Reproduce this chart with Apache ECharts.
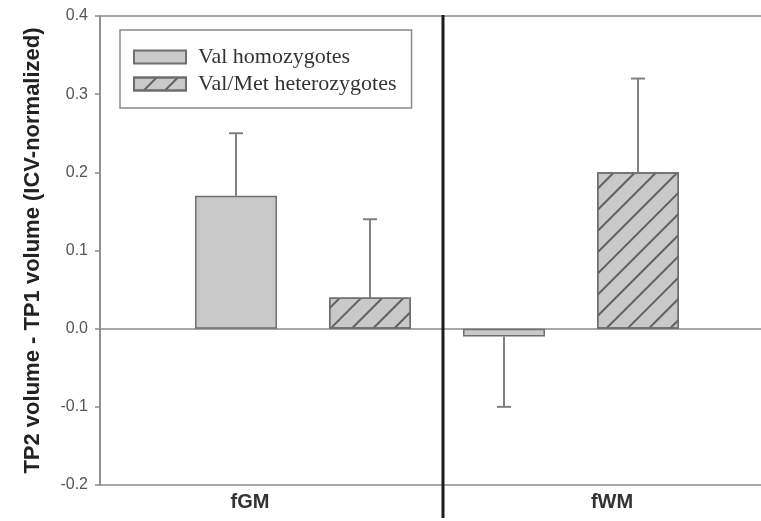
<!DOCTYPE html>
<html>
<head>
<meta charset="utf-8">
<script src="https://cdn.jsdelivr.net/npm/echarts@6/dist/echarts.min.js"></script>
<style>html,body{margin:0;padding:0;background:#fff;}#c{width:761px;height:521px;}</style>
</head>
<body>
<div id="c"></div>
<script>
const categories = ['fGM', 'fWM'];
const seriesNames = ['Val homozygotes', 'Val/Met heterozygotes'];
const homoMeans = [0.17, -0.01];
const hetMeans = [0.04, 0.20];
const homoErrEnds = [0.25, -0.10];
const hetErrEnds = [0.14, 0.32];
const yMin = -0.2, yMax = 0.4, yStep = 0.1;
const yAxisTitle = 'TP2 volume - TP1 volume (ICV-normalized)';

const BAR_W = 82, BAR_GAP_PX = 52;
const barOffset = (BAR_W + BAR_GAP_PX) / 2;
const axisGrey = '#8a8a8a';
const barFill = '#c9c9c9';
const barBorder = '#6f6f6f';

const chart = echarts.init(document.getElementById('c'), null, {renderer: 'canvas'});

function errSeries(means, ends, sign, name) {
  return {
    type: 'custom',
    name: name + ' err',
    xAxisIndex: 1, yAxisIndex: 1,
    z: 1,
    silent: true,
    data: means.map((m, i) => [i, m, ends[i]]),
    renderItem: function (params, api) {
      const a = api.coord([api.value(0), api.value(1)]);
      const b = api.coord([api.value(0), api.value(2)]);
      const x = a[0] + sign * barOffset;
      const st = {stroke: '#808080', lineWidth: 2};
      return {
        type: 'group',
        children: [
          {type: 'line', shape: {x1: x, y1: a[1], x2: x, y2: b[1]}, style: st},
          {type: 'line', shape: {x1: x - 7, y1: b[1], x2: x + 7, y2: b[1]}, style: st}
        ]
      };
    }
  };
}

const option = {
  animation: false,
  backgroundColor: '#fff',
  grid: [
    {left: 100, width: 686, top: 16, bottom: 36, show: true, borderColor: axisGrey, borderWidth: 1.5,
      outerBoundsMode: 'none', containLabel: false},
    {left: 169, width: 536, top: 16, bottom: 36, outerBoundsMode: 'none', containLabel: false}
  ],
  legend: {
    data: seriesNames,
    orient: 'vertical',
    left: 120, top: 30,
    padding: [16, 15, 13, 13],
    itemGap: 5,
    itemWidth: 52, itemHeight: 13,
    borderColor: '#8a8a8a', borderWidth: 1.5,
    icon: 'rect',
    textStyle: {fontFamily: 'Liberation Serif', fontSize: 22, color: '#333', padding: [0, 0, 0, 7]}
  },
  xAxis: [
    {
      type: 'category', gridIndex: 0, data: ['', ''], boundaryGap: true,
      axisLine: {show: true, onZero: true, lineStyle: {color: axisGrey, width: 1.5}},
      axisTick: {show: false}, axisLabel: {show: false}, splitLine: {show: false}
    },
    {
      type: 'category', gridIndex: 1, data: categories,
      axisLine: {show: false, onZero: false}, axisTick: {show: false},
      axisLabel: {
        margin: 7,
        formatter: function (v, i) { return '{c' + i + '|' + v + '}'; },
        rich: {
          c0: {fontFamily: 'Liberation Sans', fontWeight: 'bold', fontSize: 20, color: '#333', padding: [0, 106, 0, 0]},
          c1: {fontFamily: 'Liberation Sans', fontWeight: 'bold', fontSize: 20, color: '#333', padding: [0, 0, 0, 82]}
        }
      }
    }
  ],
  yAxis: [
    {
      type: 'value', gridIndex: 0, min: yMin, max: yMax, interval: yStep,
      name: yAxisTitle, nameLocation: 'middle', nameGap: 56,
      nameTextStyle: {fontFamily: 'Liberation Sans', fontWeight: 'bold', fontSize: 22, color: '#222'},
      axisLine: {show: true, lineStyle: {color: axisGrey, width: 1.5}},
      axisTick: {show: true, length: 5, lineStyle: {color: axisGrey, width: 1.5}},
      axisLabel: {margin: 12, fontFamily: 'Liberation Sans', fontSize: 16, color: '#555',
        formatter: function (v) { return v.toFixed(1); }},
      splitLine: {show: false}
    },
    {
      type: 'value', gridIndex: 1, min: yMin, max: yMax, interval: yStep, show: false
    }
  ],
  series: [
    {
      type: 'bar', name: seriesNames[0], xAxisIndex: 1, yAxisIndex: 1,
      data: homoMeans, barWidth: BAR_W, barGap: (BAR_GAP_PX / BAR_W * 100).toFixed(2) + '%',
      itemStyle: {color: barFill, borderColor: barBorder, borderWidth: 1.5}
    },
    {
      type: 'bar', name: seriesNames[1], xAxisIndex: 1, yAxisIndex: 1,
      data: hetMeans, barWidth: BAR_W,
      itemStyle: {
        color: barFill, borderColor: barBorder, borderWidth: 1.5,
        decal: {symbol: 'rect', symbolSize: 1, dashArrayX: [1, 0], dashArrayY: [1.4, 12.6],
          rotation: -Math.PI / 4, color: '#606060'}
      }
    },
    errSeries(homoMeans, homoErrEnds, -1, seriesNames[0]),
    errSeries(hetMeans, hetErrEnds, 1, seriesNames[1]),
    {
      type: 'custom', name: 'divider', xAxisIndex: 0, yAxisIndex: 0, silent: true, z: 5,
      data: [[0]],
      renderItem: function (params, api) {
        const top = api.coord([0, yMax]);
        const bot = api.coord([0, yMin]);
        const w = api.size([1, 0])[0];
        const x = top[0] + w / 2;
        return {type: 'line', shape: {x1: x, y1: top[1] - 1, x2: x, y2: bot[1] + 33},
          style: {stroke: '#1c1c1c', lineWidth: 3}};
      }
    }
  ]
};
chart.setOption(option);
</script>
</body>
</html>
